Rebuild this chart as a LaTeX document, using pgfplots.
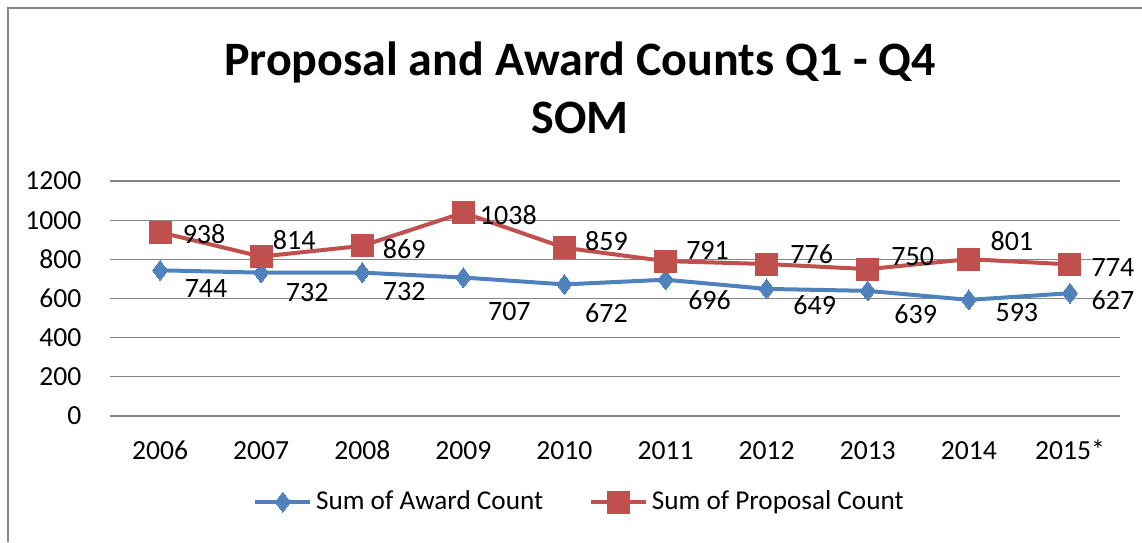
\documentclass[border=0pt]{standalone}
\usepackage{pgfplots}
\pgfplotsset{compat=1.18}
\usepackage{pgfplotstable}
\usepackage{fontspec}
\setmainfont{Carlito}
\definecolor{awardblue}{HTML}{4F81BD}
\definecolor{propred}{HTML}{C0504D}
\definecolor{gridgray}{HTML}{868686}

\pgfplotstableread{
x y dx dy
0 744 23 -9
1 732 23 -10
2 732 21 -9.5
3 707 23 -17
4 672 21 -14.5
5 696 22 -10
6 649 24 -8
7 639 24 -11.5
8 593 24 -6.5
9 627 21.5 -3.5
}\award

\pgfplotstableread{
x y dx dy
0 938 22 -1
1 814 16.5 8.5
2 869 21 -1.5
3 1038 22.5 -1
4 859 21 3.5
5 791 21 5.5
6 776 22.5 5
7 750 22.5 6.5
8 801 21.5 9
9 774 21.5 -1.5
}\proposal

\begin{document}
\begin{tikzpicture}
\path[use as bounding box] (0,0) rectangle (571pt,271pt);
\draw[gridgray, line width=1.2pt] (4pt,0) -- (4pt,267pt) -- (571pt,267pt);
\node[font=\fontsize{24}{28}\selectfont\bfseries] at (290pt,240pt) {Proposal and Award Counts Q1 - Q4};
\node[font=\fontsize{24}{28}\selectfont\bfseries] at (290pt,212pt) {SOM};
\begin{axis}[
  at={(54.75pt,63pt)}, anchor=south west,
  scale only axis,
  width=505.5pt, height=117.5pt,
  xmin=-0.5, xmax=9.5,
  ymin=0, ymax=1200,
  ytick={0,200,...,1200},
  xtick={0,...,9},
  xticklabels={2006,2007,2008,2009,2010,2011,2012,2013,2014,2015*},
  axis lines=left,
  y axis line style={draw=none},
  x axis line style={gridgray, line width=0.6pt, -},
  ymajorgrids,
  major grid style={gridgray, line width=0.6pt},
  major tick length=0pt,
  tick style={draw=none},
  ticklabel style={font=\fontsize{13.8}{15}\selectfont, text=black},
  /pgf/number format/assume math mode=true,
  /pgf/number format/1000 sep={},
  yticklabel style={xshift=-10.5pt},
  xticklabel style={text height=9.5pt, text depth=0pt, yshift=-8.5pt},
  clip=false,
  legend style={at={(0.466,-0.366)}, anchor=center, draw=none, fill=none,
    font=\fontsize{13.6}{15}\selectfont, legend columns=2,
    /tikz/every even column/.append style={column sep=21pt}},
  legend image code/.code={
    \draw[#1, mark repeat=2, mark phase=2] plot coordinates {(0cm,0cm) (0.48cm,0cm) (0.96cm,0cm)};},
  nodes near coords,
  nodes near coords style={font=\fontsize{14}{16}\selectfont, text=black, anchor=center, xshift=\dx pt, yshift=\dy pt},
]
\addplot[awardblue, line width=2pt, mark=diamond*, mark size=5pt, mark options={solid, fill=awardblue, line width=0pt},
  visualization depends on={\thisrow{dx} \as \dx},
  visualization depends on={\thisrow{dy} \as \dy}]
  table[x=x, y=y] {\award};
\addlegendentry{Sum of Award Count}
\addplot[propred, line width=2pt, mark=square*, mark size=5.5pt, mark options={solid, fill=propred, line width=0pt},
  visualization depends on={\thisrow{dx} \as \dx},
  visualization depends on={\thisrow{dy} \as \dy}]
  table[x=x, y=y] {\proposal};
\addlegendentry{Sum of Proposal Count}
\end{axis}
\end{tikzpicture}
\end{document}
